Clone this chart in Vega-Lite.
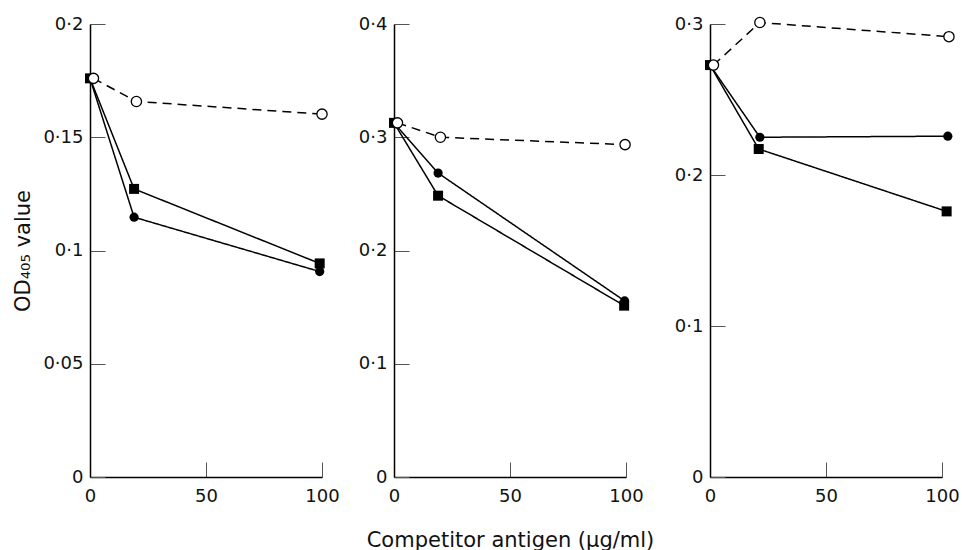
{
  "$schema": "https://vega.github.io/schema/vega-lite/v6.json",
  "padding": {"left": 12, "top": 14, "right": 5, "bottom": 5},
  "background": "white",
  "data": {"values": [
    {"panel": "A", "series": "square", "x": 0, "y": 0.176},
    {"panel": "A", "series": "square", "x": 19, "y": 0.1272},
    {"panel": "A", "series": "square", "x": 99, "y": 0.0943},
    {"panel": "A", "series": "filled", "x": 0, "y": 0.176},
    {"panel": "A", "series": "filled", "x": 19, "y": 0.1147},
    {"panel": "A", "series": "filled", "x": 99, "y": 0.0907},
    {"panel": "A", "series": "open", "x": 1.5, "y": 0.176},
    {"panel": "A", "series": "open", "x": 20, "y": 0.1658},
    {"panel": "A", "series": "open", "x": 100, "y": 0.1602},
    {"panel": "B", "series": "square", "x": 0, "y": 0.3127},
    {"panel": "B", "series": "square", "x": 19, "y": 0.2484},
    {"panel": "B", "series": "square", "x": 99.2, "y": 0.1513},
    {"panel": "B", "series": "filled", "x": 0, "y": 0.3127},
    {"panel": "B", "series": "filled", "x": 19, "y": 0.2684},
    {"panel": "B", "series": "filled", "x": 99.4, "y": 0.1555},
    {"panel": "B", "series": "open", "x": 1.5, "y": 0.3127},
    {"panel": "B", "series": "open", "x": 20, "y": 0.3},
    {"panel": "B", "series": "open", "x": 99.6, "y": 0.2935},
    {"panel": "C", "series": "square", "x": 0, "y": 0.2728},
    {"panel": "C", "series": "square", "x": 21, "y": 0.2172},
    {"panel": "C", "series": "square", "x": 102, "y": 0.1759},
    {"panel": "C", "series": "filled", "x": 0, "y": 0.2728},
    {"panel": "C", "series": "filled", "x": 21.5, "y": 0.225},
    {"panel": "C", "series": "filled", "x": 102.5, "y": 0.2257},
    {"panel": "C", "series": "open", "x": 1.5, "y": 0.2728},
    {"panel": "C", "series": "open", "x": 21.5, "y": 0.301},
    {"panel": "C", "series": "open", "x": 103, "y": 0.2916}
  ]},
  "bounds": "flush",
  "spacing": 72,
  "hconcat": [
    {
      "width": 232, "height": 453,
      "transform": [{"filter": "datum.panel == 'A'"}],
      "encoding": {
        "x": {"field": "x", "type": "quantitative", "scale": {"domain": [0, 100], "nice": false}, "axis": {"values": [0, 50, 100], "title": null}},
        "y": {"field": "y", "type": "quantitative", "scale": {"domain": [0, 0.2], "nice": false}, "axis": {"values": [0, 0.05, 0.1, 0.15, 0.2], "title": "OD₄₀₅ value", "titlePadding": 9, "labelExpr": "replace(format(datum.value, '~g'), '.', '·')"}}
      },
      "layer": [
        {"mark": {"type": "line", "color": "black", "strokeWidth": 1.5}, "encoding": {"detail": {"field": "series"}, "strokeDash": {"field": "series", "type": "nominal", "scale": {"domain": ["open", "filled", "square"], "range": [[9, 6], [1, 0], [1, 0]]}, "legend": null}}},
        {"transform": [{"filter": "datum.series == 'square'"}], "mark": {"type": "point", "shape": "square", "filled": true, "color": "black", "opacity": 1, "size": 100}},
        {"transform": [{"filter": "datum.series == 'filled'"}], "mark": {"type": "point", "shape": "circle", "filled": true, "color": "black", "opacity": 1, "size": 85}},
        {"transform": [{"filter": "datum.series == 'open'"}], "mark": {"type": "point", "shape": "circle", "filled": true, "fill": "white", "stroke": "black", "strokeWidth": 1.3, "opacity": 1, "size": 105}}
      ]
    },
    {
      "width": 244, "height": 453,
      "transform": [{"filter": "datum.panel == 'B'"}],
      "encoding": {
        "x": {"field": "x", "type": "quantitative", "scale": {"domain": [0, 100], "nice": false, "range": [0, 232]}, "axis": {"values": [0, 50, 100], "title": "Competitor antigen (µg/ml)", "titleX": 116, "titlePadding": 24}},
        "y": {"field": "y", "type": "quantitative", "scale": {"domain": [0, 0.4], "nice": false}, "axis": {"values": [0, 0.1, 0.2, 0.3, 0.4], "title": null, "labelExpr": "replace(format(datum.value, '~g'), '.', '·')"}}
      },
      "layer": [
        {"mark": {"type": "line", "color": "black", "strokeWidth": 1.5}, "encoding": {"detail": {"field": "series"}, "strokeDash": {"field": "series", "type": "nominal", "scale": {"domain": ["open", "filled", "square"], "range": [[9, 6], [1, 0], [1, 0]]}, "legend": null}}},
        {"transform": [{"filter": "datum.series == 'square'"}], "mark": {"type": "point", "shape": "square", "filled": true, "color": "black", "opacity": 1, "size": 100}},
        {"transform": [{"filter": "datum.series == 'filled'"}], "mark": {"type": "point", "shape": "circle", "filled": true, "color": "black", "opacity": 1, "size": 85}},
        {"transform": [{"filter": "datum.series == 'open'"}], "mark": {"type": "point", "shape": "circle", "filled": true, "fill": "white", "stroke": "black", "strokeWidth": 1.3, "opacity": 1, "size": 105}}
      ]
    },
    {
      "width": 232, "height": 453,
      "transform": [{"filter": "datum.panel == 'C'"}],
      "encoding": {
        "x": {"field": "x", "type": "quantitative", "scale": {"domain": [0, 100], "nice": false}, "axis": {"values": [0, 50, 100], "title": null}},
        "y": {"field": "y", "type": "quantitative", "scale": {"domain": [0, 0.3], "nice": false}, "axis": {"values": [0, 0.1, 0.2, 0.3], "title": null, "labelExpr": "replace(format(datum.value, '~g'), '.', '·')"}}
      },
      "layer": [
        {"mark": {"type": "line", "color": "black", "strokeWidth": 1.5}, "encoding": {"detail": {"field": "series"}, "strokeDash": {"field": "series", "type": "nominal", "scale": {"domain": ["open", "filled", "square"], "range": [[9, 6], [1, 0], [1, 0]]}, "legend": null}}},
        {"transform": [{"filter": "datum.series == 'square'"}], "mark": {"type": "point", "shape": "square", "filled": true, "color": "black", "opacity": 1, "size": 100}},
        {"transform": [{"filter": "datum.series == 'filled'"}], "mark": {"type": "point", "shape": "circle", "filled": true, "color": "black", "opacity": 1, "size": 85}},
        {"transform": [{"filter": "datum.series == 'open'"}], "mark": {"type": "point", "shape": "circle", "filled": true, "fill": "white", "stroke": "black", "strokeWidth": 1.3, "opacity": 1, "size": 105}}
      ]
    }
  ],
  "config": {
    "view": {"stroke": null},
    "axis": {
      "grid": false,
      "domainColor": "#000",
      "domainWidth": 1.5,
      "tickColor": "#555",
      "tickWidth": 1,
      "tickSize": -15,
      "labelFlush": false,
      "labelFont": "DejaVu Sans",
      "labelFontSize": 18,
      "labelColor": "#111",
      "titleFont": "DejaVu Sans",
      "titleFontSize": 21,
      "titleFontWeight": "normal",
      "titleColor": "#111"
    },
    "axisY": {"labelPadding": 22},
    "axisX": {"labelPadding": 25}
  }
}
